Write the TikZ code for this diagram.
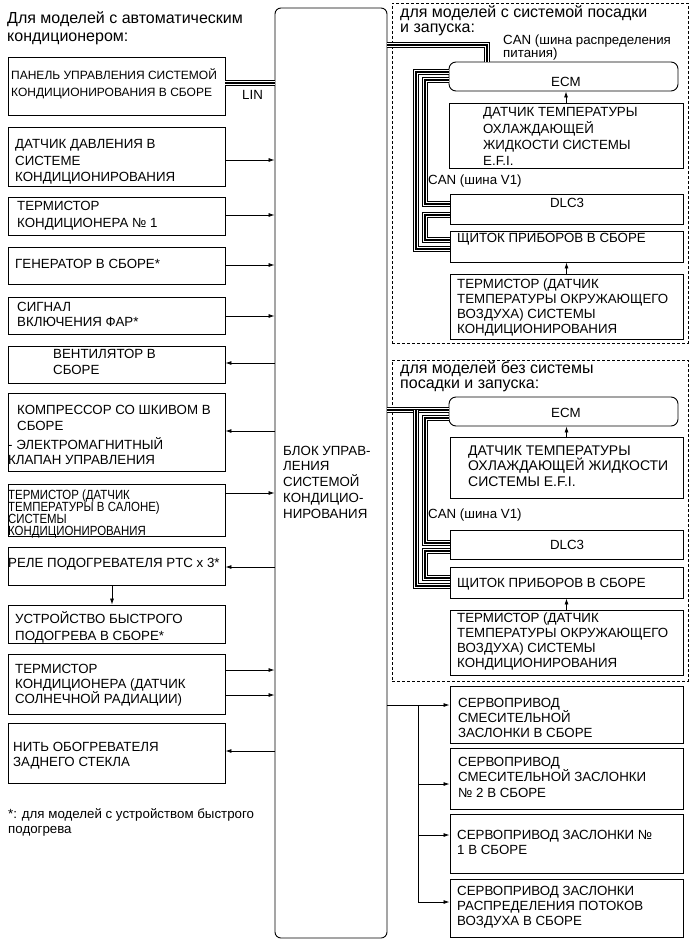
\documentclass[tikz,border=0pt]{standalone}
\usepackage{fontspec}
\setmainfont{Liberation Sans}
\usetikzlibrary{arrows.meta,fit}
\begin{document}
\begin{tikzpicture}[x=1pt,y=-1pt,
 box/.style={draw, line width=0.9pt, inner sep=0pt},
 rbox/.style={box, rounded corners=7pt},
 grp/.style={draw, line width=0.8pt, dash pattern=on 3pt off 2pt, inner sep=0pt},
 tx/.style={inner sep=0pt, align=left, anchor=base west, font={\fontsize{13.3}{#1}\selectfont\lineskiplimit=-20pt}},
 tx/.default=16,
 tb/.style={inner sep=0pt, align=left, anchor=base west, font={\fontsize{14}{#1}\selectfont\lineskiplimit=-20pt}},
 tb/.default=16,
 hd/.style={inner sep=0pt, align=left, anchor=base west, font={\fontsize{16}{#1}\selectfont\lineskiplimit=-20pt}},
 hd/.default=18,
 sm/.style={inner sep=0pt, align=left, anchor=base west, font={\fontsize{12}{#1}\selectfont\lineskiplimit=-20pt}},
 sm/.default=13,
 ctx/.style={inner sep=0pt, anchor=base, font=\fontsize{13.3}{16}\selectfont},
 arr/.style={line width=0.8pt, -{Latex[length=6pt,width=4pt]}},
 bus/.style={draw=white, line width=4.4pt, preaction={draw=black, line width=6.8pt}, postaction={draw=black, line width=2.2pt}},
]
\fill[white] (0,0) rectangle (691,952);
\useasboundingbox (0,0) rectangle (691,952);

% header (anchor = baseline of last line)
\node[hd=18] (hdr) at (7,42) {Для моделей с автоматическим\\кондиционером:};

% left boxes
\node[box, fit={(8,57)(225,115)}] (b1) {};
\node[box, fit={(8,127)(225,186)}] (b2) {};
\node[box, fit={(8,197)(225,235)}] (b3) {};
\node[box, fit={(8,247)(225,284)}] (b4) {};
\node[box, fit={(8,297)(225,334)}] (b5) {};
\node[box, fit={(8,346)(225,383)}] (b6) {};
\node[box, fit={(8,393)(225,471)}] (b7) {};
\node[box, fit={(8,484)(225,536)}] (b8) {};
\node[box, fit={(8,547)(225,585)}] (b9) {};
\node[box, fit={(8,605)(225,643)}] (b10) {};
\node[box, fit={(8,654)(225,714)}] (b11) {};
\node[box, fit={(8,723)(225,783)}] (b12) {};

\node[sm=17] (t1) at (11,97) {ПАНЕЛЬ УПРАВЛЕНИЯ СИСТЕМОЙ\\КОНДИЦИОНИРОВАНИЯ В СБОРЕ};
\node[tx=16.5] (t2) at (15,182) {ДАТЧИК ДАВЛЕНИЯ В\\СИСТЕМЕ\\КОНДИЦИОНИРОВАНИЯ};
\node[tx=17] (t3) at (17,227) {ТЕРМИСТОР\\КОНДИЦИОНЕРА № 1};
\node[tx] (t4) at (15,268) {ГЕНЕРАТОР В СБОРЕ*};
\node[tx=15] (t5) at (17,326) {СИГНАЛ\\ВКЛЮЧЕНИЯ ФАР*};
\node[tx=16] (t6) at (53,374) {ВЕНТИЛЯТОР В\\СБОРЕ};
\node[tx=16] (t7a) at (17,430) {КОМПРЕССОР СО ШКИВОМ В\\СБОРЕ};
\node[tx=15] (t7b) at (8,464) {- ЭЛЕКТРОМАГНИТНЫЙ\\КЛАПАН УПРАВЛЕНИЯ};
\begin{scope}[xscale=0.86]
\node[tx=12, transform shape] (t8) at (9.3,535) {ТЕРМИСТОР (ДАТЧИК\\ТЕМПЕРАТУРЫ В САЛОНЕ)\\СИСТЕМЫ\\КОНДИЦИОНИРОВАНИЯ};
\end{scope}
\node[tx] (t9) at (8,567) {РЕЛЕ ПОДОГРЕВАТЕЛЯ PTC x 3*};
\node[tx=17] (t10) at (15,640) {УСТРОЙСТВО БЫСТРОГО\\ПОДОГРЕВА В СБОРЕ*};
\node[tx=15] (t11) at (15,703) {ТЕРМИСТОР\\КОНДИЦИОНЕРА (ДАТЧИК\\СОЛНЕЧНОЙ РАДИАЦИИ)};
\node[tx=14.5] (t12) at (13,766) {НИТЬ ОБОГРЕВАТЕЛЯ\\ЗАДНЕГО СТЕКЛА};
\node[tx=15] (foot) at (8,833) {*: для моделей с устройством быстрого\\подогрева};

% central block
\node[box, rounded corners=6pt, fit={(275,8)(387,938)}] (blk) {};
\node[tx=15.7] (tblk) at (283,518) {БЛОК УПРАВ-\\ЛЕНИЯ\\СИСТЕМОЙ\\КОНДИЦИО-\\НИРОВАНИЯ};

% left connections
\draw[bus] (b1.east |- 0,83) -- (blk.west |- 0,83);
\node[tx] (lin) at (242,100) {LIN};
\draw[arr] (b2.east |- 0,160) -- (blk.west |- 0,160);
\draw[arr] (b3.east |- 0,215) -- (blk.west |- 0,215);
\draw[arr] (b4.east |- 0,265) -- (blk.west |- 0,265);
\draw[arr] (b5.east |- 0,316) -- (blk.west |- 0,316);
\draw[arr] (blk.west |- 0,363) -- (b6.east |- 0,363);
\draw[arr] (blk.west |- 0,431) -- (b7.east |- 0,431);
\draw[arr] (b8.east |- 0,493) -- (blk.west |- 0,493);
\draw[arr] (blk.west |- 0,567) -- (b9.east |- 0,567);
\draw[arr] (b9.south -| 112,0) -- (b10.north -| 112,0);
\draw[arr] (b11.east |- 0,670) -- (blk.west |- 0,670);
\draw[arr] (b11.east |- 0,695) -- (blk.west |- 0,695);
\draw[arr] (blk.west |- 0,751) -- (b12.east |- 0,751);

% group 1
\node[grp, fit={(392,3)(688,343)}] (g1) {};
\node[hd=15] (h1) at (400,33) {для моделей с системой посадки\\и запуска:};
\node[rbox, fit={(449,62)(678,91)}] (ecm1) {};
\node[box, fit={(449,103)(683,168)}] (sen1) {};
\node[box, fit={(450,194)(683,224)}] (dlc1) {};
\node[box, fit={(450,231)(683,262)}] (ins1) {};
\node[box, fit={(450,274)(683,339)}] (thr1) {};
\node[tx=13] (can1) at (503,58) {CAN (шина распределения\\питания)};
\node[ctx] (ecm1t) at (566,87) {ECM};
\node[tx=16] (sen1t) at (483,165) {ДАТЧИК ТЕМПЕРАТУРЫ\\ОХЛАЖДАЮЩЕЙ\\ЖИДКОСТИ СИСТЕМЫ\\E.F.I.};
\node[tx] (canv1) at (428,184) {CAN (шина V1)};
\node[ctx] (dlc1t) at (567,207) {DLC3};
\node[tx] (ins1t) at (457,242) {ЩИТОК ПРИБОРОВ В СБОРЕ};
\node[tx=15] (thr1t) at (457,333) {ТЕРМИСТОР (ДАТЧИК\\ТЕМПЕРАТУРЫ ОКРУЖАЮЩЕГО\\ВОЗДУХА) СИСТЕМЫ\\КОНДИЦИОНИРОВАНИЯ};
\draw[arr] (sen1.north) -- (sen1.north |- ecm1.south);
\draw[arr] (thr1.north) -- (thr1.north |- ins1.south);
\draw[bus] (blk.east |- 0,45) -- (487,45) -- (ecm1.north -| 487,0);
\draw[bus] (ecm1.west |- 0,72) -- (416,72) -- (416,249) -- (ins1.west |- 0,249);
\draw[bus] (ecm1.west |- 0,80) -- (425,80) -- (425,204) -- (dlc1.west |- 0,204);
\draw[bus] (dlc1.west |- 0,215) -- (425,215) -- (425,240) -- (ins1.west |- 0,240);

% group 2
\node[grp, fit={(392,360)(688,681)}] (g2) {};
\node[hd=15] (h2) at (400,388) {для моделей без системы\\посадки и запуска:};
\node[rbox, fit={(449,397)(678,426)}] (ecm2) {};
\node[box, fit={(450,437)(683,498)}] (sen2) {};
\node[box, fit={(450,530)(683,559)}] (dlc2) {};
\node[box, fit={(450,567)(683,598)}] (ins2) {};
\node[box, fit={(450,610)(683,675)}] (thr2) {};
\node[ctx] (ecm2t) at (566,417) {ECM};
\node[tb=15.5] (sen2t) at (468,486) {ДАТЧИК ТЕМПЕРАТУРЫ\\ОХЛАЖДАЮЩЕЙ ЖИДКОСТИ\\СИСТЕМЫ E.F.I.};
\node[tx] (canv2) at (428,518) {CAN (шина V1)};
\node[ctx] (dlc2t) at (567,549) {DLC3};
\node[tx] (ins2t) at (457,587) {ЩИТОК ПРИБОРОВ В СБОРЕ};
\node[tx=14.7] (thr2t) at (457,667) {ТЕРМИСТОР (ДАТЧИК\\ТЕМПЕРАТУРЫ ОКРУЖАЮЩЕГО\\ВОЗДУХА) СИСТЕМЫ\\КОНДИЦИОНИРОВАНИЯ};
\draw[arr] (sen2.north) -- (sen2.north |- ecm2.south);
\draw[arr] (thr2.north) -- (thr2.north |- ins2.south);
\draw[bus] (blk.east |- 0,410) -- (ecm2.west |- 0,410);
\draw[bus] (416,410) -- (416,586) -- (ins2.west |- 0,586);
\draw[bus] (ecm2.west |- 0,418) -- (425,418) -- (425,543) -- (dlc2.west |- 0,543);
\draw[bus] (dlc2.west |- 0,551) -- (425,551) -- (425,578) -- (ins2.west |- 0,578);

% servos
\node[box, fit={(450,686)(683,743)}] (s1) {};
\node[box, fit={(450,748)(683,809)}] (s2) {};
\node[box, fit={(450,814)(683,873)}] (s3) {};
\node[box, fit={(450,879)(683,937)}] (s4) {};
\node[tx=15] (s1t) at (458,737) {СЕРВОПРИВОД\\СМЕСИТЕЛЬНОЙ\\ЗАСЛОНКИ В СБОРЕ};
\node[tx=15.5] (s2t) at (458,797) {СЕРВОПРИВОД\\СМЕСИТЕЛЬНОЙ ЗАСЛОНКИ\\№ 2 В СБОРЕ};
\node[tx=15] (s3t) at (457,854) {СЕРВОПРИВОД ЗАСЛОНКИ №\\1 В СБОРЕ};
\node[tx=15] (s4t) at (457,925) {СЕРВОПРИВОД ЗАСЛОНКИ\\РАСПРЕДЕЛЕНИЯ ПОТОКОВ\\ВОЗДУХА В СБОРЕ};
\coordinate (jt) at (418,705);
\coordinate (jb) at (418,902);
\draw[arr] (blk.east |- jt) -- (s1.west |- jt);
\draw[line width=0.8pt] (jt) -- (jb);
\draw[arr] (jt |- 0,784) -- (s2.west |- 0,784);
\draw[arr] (jt |- 0,835) -- (s3.west |- 0,835);
\draw[arr] (jb) -- (s4.west |- jb);
\end{tikzpicture}
\end{document}
